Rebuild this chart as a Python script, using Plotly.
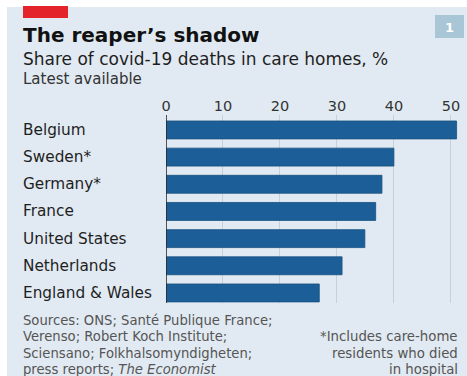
import plotly.graph_objects as go

categories = ["Belgium", "Sweden*", "Germany*", "France", "United States", "Netherlands", "England & Wales"]
values = [51, 40, 37.9, 36.8, 34.9, 30.9, 26.9]
tick_vals = [0, 10, 20, 30, 40, 50]
sources_lines = ["Sources: ONS; Santé Publique France;", "Verenso; Robert Koch Institute;",
                 "Sciensano; Folkhalsomyndigheten;", "press reports; <i>The Economist</i>"]
note_lines = ["*Includes care-home", "residents who died", "in hospital"]

W, H = 467, 376
L, R, T, B = 166, 460, 115, 303  # plot area in px

def px(x):
    return (x - L) / (R - L)

def py(y):
    return (B - y) / (B - T)

BG = "#e1eaf2"
BAR = "#1c5e97"
FONT = "DejaVu Sans"

fig = go.Figure(go.Bar(
    x=values, y=categories, orientation="h",
    marker=dict(color=BAR, line=dict(color="#17507f", width=0.8)),
    hoverinfo="skip",
))

shapes = [
    dict(type="rect", xref="paper", yref="paper", x0=px(7), x1=px(470), y0=py(7), y1=py(380),
         fillcolor=BG, line=dict(width=0), layer="below"),
    dict(type="rect", xref="paper", yref="paper", x0=px(23), x1=px(68), y0=py(6), y1=py(18),
         fillcolor="#e3252b", line=dict(width=0), layer="below"),
    dict(type="rect", xref="paper", yref="paper", x0=px(435), x1=px(464), y0=py(15), y1=py(38),
         fillcolor="#a9c6d6", line=dict(width=0), layer="below"),
]

annotations = [
    dict(text="<b>1</b>", xref="paper", yref="paper", x=px(449.5), y=py(27), xanchor="center", yanchor="middle",
         showarrow=False, font=dict(family=FONT, size=13, color="white")),
    dict(text="<b>The reaper’s shadow</b>", xref="paper", yref="paper", x=px(21), y=py(35),
         xanchor="left", yanchor="middle", showarrow=False, font=dict(family=FONT, size=20, color="#111111")),
    dict(text="Share of covid-19 deaths in care homes, %", xref="paper", yref="paper", x=px(21), y=py(59),
         xanchor="left", yanchor="middle", showarrow=False, font=dict(family=FONT, size=17, color="#1e1e1e")),
    dict(text="Latest available", xref="paper", yref="paper", x=px(21), y=py(79),
         xanchor="left", yanchor="middle", showarrow=False, font=dict(family=FONT, size=15, color="#333333")),
]
for i, line in enumerate(sources_lines):
    annotations.append(dict(text=line, xref="paper", yref="paper", x=px(21), y=py(320 + 16.5 * i),
                            xanchor="left", yanchor="middle", showarrow=False,
                            font=dict(family=FONT, size=13.2, color="#555555")))
for i, line in enumerate(note_lines):
    annotations.append(dict(text=line, xref="paper", yref="paper", x=px(460), y=py(336.5 + 16.5 * i),
                            xanchor="right", yanchor="middle", showarrow=False,
                            font=dict(family=FONT, size=13.3, color="#555555")))
for c in categories:
    annotations.append(dict(text=c, xref="paper", yref="y", x=px(21), y=c, xanchor="left", yanchor="middle",
                            showarrow=False, font=dict(family=FONT, size=15.3, color="#1e1e1e")))

fig.update_layout(
    width=W, height=H,
    margin=dict(l=L, r=W - R, t=T, b=H - B, pad=0),
    paper_bgcolor="white", plot_bgcolor="rgba(0,0,0,0)",
    showlegend=False,
    bargap=0.34,
    shapes=shapes, annotations=annotations,
    xaxis=dict(range=[0, 51.6], side="top", tickvals=tick_vals, showgrid=True, gridcolor="#c5d0da",
               gridwidth=1, zeroline=False, showline=False, ticks="",
               tickfont=dict(family=FONT, size=14.5, color="#333333"), fixedrange=True),
    yaxis=dict(categoryorder="array", categoryarray=categories, range=[6.37, -0.55],
               showticklabels=False, showgrid=False, zeroline=False, showline=False, ticks="", fixedrange=True),
    font=dict(family=FONT),
)
fig.add_shape(type="line", xref="x", yref="paper", x0=0, x1=0, y0=0, y1=1,
              line=dict(color="#2a2a2a", width=1.6))

fig.write_html("out.html")
